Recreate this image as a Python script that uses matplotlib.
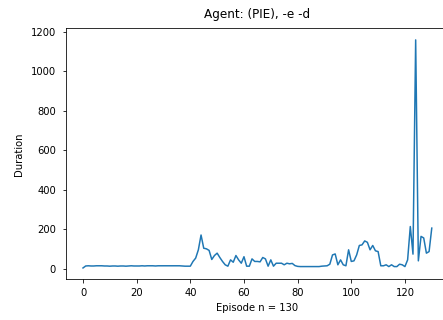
import matplotlib
matplotlib.use("Agg")
import matplotlib.pyplot as plt
import numpy as np

agent_name = "(PIE), -e -d"

# episode durations, one value per episode
durations = [
    3, 13, 14, 13, 13, 14, 14, 14, 13, 13,
    12, 13, 13, 12, 13, 13, 12, 13, 14, 13,
    13, 13, 14, 13, 14, 14, 14, 13, 14, 14,
    14, 14, 14, 14, 14, 14, 14, 13, 12, 12,
    12, 36, 53, 95, 170, 103, 100, 92, 46, 66,
    78, 56, 36, 19, 12, 44, 32, 66, 44, 27,
    60, 12, 12, 49, 36, 36, 34, 56, 49, 12,
    44, 12, 27, 27, 27, 19, 27, 24, 26, 15,
    11, 10, 10, 10, 10, 10, 10, 10, 10, 12,
    13, 14, 22, 69, 74, 19, 44, 19, 14, 95,
    36, 39, 69, 117, 120, 140, 133, 95, 117, 90,
    86, 14, 14, 19, 10, 19, 10, 10, 22, 19,
    10, 44, 213, 73, 1159, 39, 163, 155, 78, 86,
    205,
]

fig = plt.figure(figsize=(443 / 72, 320 / 72), dpi=72)
ax = fig.add_axes([0.148, 0.127, 0.866, 0.784])
ax.plot(np.arange(len(durations)), durations)
ax.set_title("Agent: " + agent_name, pad=10)
ax.set_xlabel("Episode n = %d" % len(durations[:-1]), labelpad=5)
ax.set_ylabel("Duration", labelpad=7)
ax.tick_params(axis="y", pad=6)
ax.tick_params(axis="x", pad=5)
fig.savefig("out.png", dpi=72)
